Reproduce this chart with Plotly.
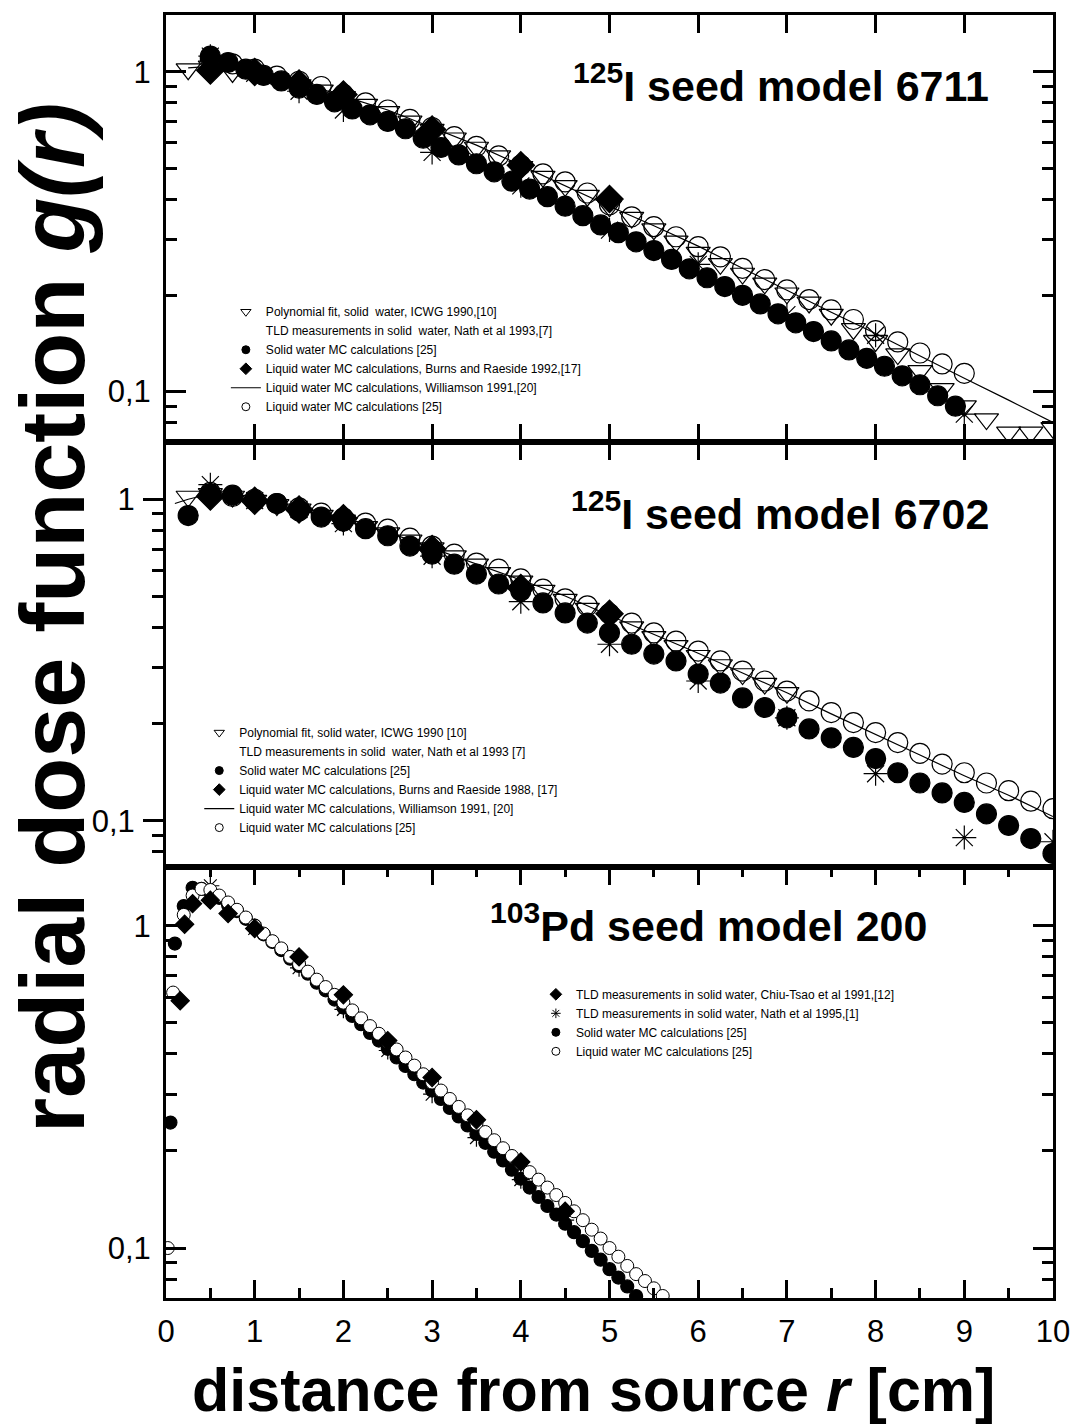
import plotly.graph_objects as go

# ---------------- Panel 1 : 125I seed model 6711 ----------------
p1_poly_x = [0.25, 0.5, 0.75, 1.0, 1.25, 1.5, 1.75, 2.0, 2.25, 2.5, 2.75, 3.0, 3.25, 3.5, 3.75, 4.0,
             4.25, 4.5, 4.75, 5.0, 5.25, 5.5, 5.75, 6.0, 6.25, 6.5, 6.75, 7.0, 7.25, 7.5, 7.75, 8.0,
             8.25, 8.5, 8.75, 9.0, 9.25, 9.5, 9.75, 10.0]
p1_poly_g = [1.02, 1.04, 1.00, 0.99, 0.95, 0.91, 0.875, 0.835, 0.79, 0.75, 0.70, 0.66, 0.62, 0.58,
             0.545, 0.505, 0.47, 0.44, 0.41, 0.38, 0.35, 0.322, 0.295, 0.272, 0.251, 0.234, 0.218,
             0.203, 0.19, 0.174, 0.157, 0.144, 0.131, 0.116, 0.102, 0.090, 0.082, 0.0745, 0.0745, 0.077]
p1_tld_x = [0.5, 1.0, 1.5, 2.0, 3.0, 4.0, 5.0, 6.0, 7.0, 8.0, 9.0]
p1_tld_g = [1.12, 0.99, 0.87, 0.76, 0.56, 0.44, 0.32, 0.25, 0.174, 0.15, 0.085]
p1_solid_x = [0.5, 0.7, 0.9, 1.1, 1.3, 1.5, 1.7, 1.9, 2.1, 2.3, 2.5, 2.7, 2.9, 3.1, 3.3, 3.5, 3.7,
              3.9, 4.1, 4.3, 4.5, 4.7, 4.9, 5.1, 5.3, 5.5, 5.7, 5.9, 6.1, 6.3, 6.5, 6.7, 6.9, 7.1,
              7.3, 7.5, 7.7, 7.9, 8.1, 8.3, 8.5, 8.7, 8.9]
p1_solid_g = [1.12, 1.07, 1.02, 0.975, 0.937, 0.89, 0.85, 0.806, 0.766, 0.734, 0.70, 0.664, 0.62,
              0.58, 0.55, 0.516, 0.487, 0.455, 0.43, 0.407, 0.38, 0.355, 0.332, 0.314, 0.294, 0.276,
              0.259, 0.242, 0.227, 0.213, 0.20, 0.188, 0.175, 0.164, 0.154, 0.144, 0.135, 0.127,
              0.12, 0.112, 0.105, 0.097, 0.090]
p1_burns_x = [0.5, 1.0, 1.5, 2.0, 3.0, 4.0, 5.0]
p1_burns_g = [1.01, 1.0, 0.92, 0.85, 0.66, 0.51, 0.40]
p1_will_x = [0.25, 0.5, 1.0, 1.5, 2.0, 2.5, 3.0, 3.5, 4.0, 4.5, 5.0, 5.5, 6.0, 6.5, 7.0, 7.5, 8.0,
             8.5, 9.0, 9.5, 10.0]
p1_will_g = [1.03, 1.04, 1.0, 0.93, 0.84, 0.76, 0.67, 0.59, 0.51, 0.44, 0.38, 0.33, 0.285, 0.243,
             0.207, 0.177, 0.152, 0.129, 0.11, 0.094, 0.08]
p1_liq_x = [0.5, 0.75, 1.0, 1.25, 1.5, 1.75, 2.0, 2.25, 2.5, 2.75, 3.0, 3.25, 3.5, 3.75, 4.0, 4.25,
            4.5, 4.75, 5.0, 5.25, 5.5, 5.75, 6.0, 6.25, 6.5, 6.75, 7.0, 7.25, 7.5, 7.75, 8.0, 8.25,
            8.5, 8.75, 9.0]
p1_liq_g = [1.10, 1.06, 1.02, 0.97, 0.935, 0.90, 0.85, 0.80, 0.76, 0.71, 0.67, 0.627, 0.585, 0.546,
            0.51, 0.48, 0.453, 0.418, 0.384, 0.352, 0.328, 0.305, 0.284, 0.264, 0.243, 0.224, 0.208,
            0.194, 0.18, 0.168, 0.155, 0.143, 0.132, 0.122, 0.114]

# ---------------- Panel 2 : 125I seed model 6702 ----------------
p2_poly_x = [0.25, 0.5, 0.75, 1.0, 1.25, 1.5, 1.75, 2.0, 2.25, 2.5, 2.75, 3.0, 3.25, 3.5, 3.75, 4.0,
             4.25, 4.5, 4.75, 5.0, 5.25, 5.5, 5.75, 6.0, 6.25, 6.5, 6.75, 7.0]
p2_poly_g = [1.02, 1.04, 1.02, 0.99, 0.96, 0.93, 0.89, 0.86, 0.82, 0.785, 0.745, 0.705, 0.665, 0.627,
             0.59, 0.555, 0.52, 0.487, 0.457, 0.428, 0.40, 0.373, 0.35, 0.326, 0.305, 0.286, 0.267, 0.25]
p2_tld_x = [0.5, 1.0, 1.5, 2.0, 3.0, 4.0, 5.0, 6.0, 7.0, 8.0, 9.0, 10.0]
p2_tld_g = [1.11, 0.99, 0.93, 0.84, 0.665, 0.48, 0.354, 0.272, 0.209, 0.14, 0.0886, 0.086]
p2_solid_x = [0.25, 0.5, 0.75, 1.0, 1.25, 1.5, 1.75, 2.0, 2.25, 2.5, 2.75, 3.0, 3.25, 3.5, 3.75, 4.0,
              4.25, 4.5, 4.75, 5.0, 5.25, 5.5, 5.75, 6.0, 6.25, 6.5, 6.75, 7.0, 7.25, 7.5, 7.75, 8.0,
              8.25, 8.5, 8.75, 9.0, 9.25, 9.5, 9.75, 10.0]
p2_solid_g = [0.89, 1.04, 1.03, 0.99, 0.97, 0.92, 0.88, 0.855, 0.81, 0.77, 0.715, 0.675, 0.628, 0.585,
              0.545, 0.518, 0.476, 0.443, 0.412, 0.384, 0.354, 0.33, 0.314, 0.286, 0.268, 0.241,
              0.225, 0.209, 0.193, 0.181, 0.169, 0.156, 0.141, 0.131, 0.122, 0.114, 0.105, 0.0966,
              0.088, 0.079]
p2_burns_x = [0.5, 1.0, 1.5, 2.0, 3.0, 4.0, 5.0]
p2_burns_g = [1.02, 0.99, 0.93, 0.873, 0.70, 0.53, 0.44]
p2_will_x = [0.1, 0.25, 0.5, 1.0, 1.5, 2.0, 2.5, 3.0, 3.5, 4.0, 4.5, 5.0, 5.5, 6.0, 6.5, 7.0, 7.5,
             8.0, 8.5, 9.0, 9.5, 10.0]
p2_will_g = [0.97, 1.0, 1.04, 0.99, 0.93, 0.86, 0.79, 0.705, 0.63, 0.56, 0.50, 0.435, 0.38, 0.332,
             0.288, 0.25, 0.215, 0.185, 0.16, 0.138, 0.12, 0.103]
p2_liq_x = [0.5, 0.75, 1.0, 1.25, 1.5, 1.75, 2.0, 2.25, 2.5, 2.75, 3.0, 3.25, 3.5, 3.75, 4.0, 4.25,
            4.5, 4.75, 5.0, 5.25, 5.5, 5.75, 6.0, 6.25, 6.5, 6.75, 7.0, 7.25, 7.5, 7.75, 8.0, 8.25,
            8.5, 8.75, 9.0, 9.25, 9.5, 9.75, 10.0]
p2_liq_g = [1.05, 1.02, 1.0, 0.97, 0.94, 0.905, 0.875, 0.843, 0.807, 0.757, 0.715, 0.675, 0.633,
            0.606, 0.565, 0.525, 0.49, 0.466, 0.44, 0.412, 0.384, 0.362, 0.337, 0.314, 0.292, 0.272,
            0.253, 0.236, 0.217, 0.202, 0.188, 0.175, 0.162, 0.15, 0.141, 0.131, 0.124, 0.115, 0.109]

# ---------------- Panel 3 : 103Pd seed model 200 ----------------
p3_chiu_x = [0.16, 0.21, 0.3, 0.5, 0.7, 1.0, 1.5, 2.0, 2.5, 3.0, 3.5, 4.0, 4.5]
p3_chiu_g = [0.585, 1.01, 1.17, 1.2, 1.09, 0.98, 0.80, 0.61, 0.44, 0.338, 0.25, 0.185, 0.13]
p3_nath_x = [0.5, 1.0, 1.5, 2.0, 2.5, 3.0, 3.5, 4.0, 4.5]
p3_nath_g = [1.33, 0.98, 0.74, 0.55, 0.41, 0.30, 0.22, 0.163, 0.122]
p3_solid_x = [0.05, 0.1, 0.2, 0.3, 0.4, 0.5, 0.6, 0.7, 0.8, 0.9, 1.0, 1.1, 1.2, 1.3, 1.4, 1.5, 1.6,
              1.7, 1.8, 1.9, 2.0, 2.1, 2.2, 2.3, 2.4, 2.5, 2.6, 2.7, 2.8, 2.9, 3.0, 3.1, 3.2, 3.3,
              3.4, 3.5, 3.6, 3.7, 3.8, 3.9, 4.0, 4.1, 4.2, 4.3, 4.4, 4.5, 4.6, 4.7, 4.8, 4.9, 5.0,
              5.1, 5.2, 5.3]
p3_solid_g = [0.245, 0.88, 1.15, 1.31, 1.30, 1.27, 1.22, 1.16, 1.11, 1.05, 1.00, 0.94, 0.89, 0.84,
              0.79, 0.75, 0.71, 0.665, 0.63, 0.59, 0.557, 0.525, 0.495, 0.465, 0.44, 0.415, 0.39,
              0.367, 0.346, 0.326, 0.308, 0.29, 0.272, 0.256, 0.24, 0.226, 0.212, 0.199, 0.187,
              0.175, 0.164, 0.154, 0.144, 0.135, 0.127, 0.119, 0.112, 0.105, 0.098, 0.092, 0.086,
              0.081, 0.076, 0.071]
p3_liq_x = [0.02, 0.08, 0.2, 0.3, 0.4, 0.5, 0.6, 0.7, 0.8, 0.9, 1.0, 1.1, 1.2, 1.3, 1.4, 1.5, 1.6,
            1.7, 1.8, 1.9, 2.0, 2.1, 2.2, 2.3, 2.4, 2.5, 2.6, 2.7, 2.8, 2.9, 3.0, 3.1, 3.2, 3.3,
            3.4, 3.5, 3.6, 3.7, 3.8, 3.9, 4.0, 4.1, 4.2, 4.3, 4.4, 4.5, 4.6, 4.7, 4.8, 4.9, 5.0,
            5.1, 5.2, 5.3, 5.4, 5.5, 5.6]
p3_liq_g = [0.1, 0.62, 1.08, 1.24, 1.30, 1.29, 1.24, 1.18, 1.12, 1.06, 1.00, 0.945, 0.895, 0.85,
            0.80, 0.76, 0.72, 0.68, 0.645, 0.61, 0.577, 0.546, 0.516, 0.488, 0.462, 0.437, 0.413,
            0.39, 0.368, 0.346, 0.326, 0.308, 0.29, 0.274, 0.258, 0.243, 0.229, 0.216, 0.204, 0.193,
            0.183, 0.172, 0.163, 0.154, 0.146, 0.138, 0.13, 0.122, 0.114, 0.107, 0.1, 0.094, 0.088,
            0.083, 0.079, 0.075, 0.071]

legend1_labels = ["Polynomial fit, solid  water, ICWG 1990,[10]",
                  "TLD measurements in solid  water, Nath et al 1993,[7]",
                  "Solid water MC calculations [25]",
                  "Liquid water MC calculations, Burns and Raeside 1992,[17]",
                  "Liquid water MC calculations, Williamson 1991,[20]",
                  "Liquid water MC calculations [25]"]
legend2_labels = ["Polynomial fit, solid water, ICWG 1990 [10]",
                  "TLD measurements in solid  water, Nath et al 1993 [7]",
                  "Solid water MC calculations [25]",
                  "Liquid water MC calculations, Burns and Raeside 1988, [17]",
                  "Liquid water MC calculations, Williamson 1991, [20]",
                  "Liquid water MC calculations [25]"]
legend3_labels = ["TLD measurements in solid water, Chiu-Tsao et al 1991,[12]",
                  "TLD measurements in solid water, Nath et al 1995,[1]",
                  "Solid water MC calculations [25]",
                  "Liquid water MC calculations [25]"]
panel_titles = ["<b><sup>125</sup>I seed model 6711</b>",
                "<b><sup>125</sup>I seed model 6702</b>",
                "<b><sup>103</sup>Pd seed model 200</b>"]

FONT = "Liberation Sans, Arial, sans-serif"
K = "black"

fig = go.Figure()


def pts(x, y, xa, ya, symbol, size, fill=K, lw=1.2):
    fig.add_trace(go.Scatter(x=x, y=y, xaxis=xa, yaxis=ya, mode="markers", showlegend=False,
                             hoverinfo="skip",
                             marker=dict(symbol=symbol, size=size, color=fill,
                                         line=dict(color=K, width=lw))))


def line(x, y, xa, ya):
    fig.add_trace(go.Scatter(x=x, y=y, xaxis=xa, yaxis=ya, mode="lines", showlegend=False,
                             hoverinfo="skip", line=dict(color=K, width=1.2)))


def leg(name, legend, kind, xa, ya, symbol=None, fill=K, size=8):
    if kind == "line":
        tr = go.Scatter(x=[None], y=[None], xaxis=xa, yaxis=ya, mode="lines", name=name,
                        legend=legend, line=dict(color=K, width=1.2))
    elif kind == "none":
        tr = go.Scatter(x=[None], y=[None], xaxis=xa, yaxis=ya, mode="markers", name=name,
                        legend=legend, marker=dict(size=1, color="rgba(0,0,0,0)",
                                                   line=dict(width=0)))
    else:
        tr = go.Scatter(x=[None], y=[None], xaxis=xa, yaxis=ya, mode="markers", name=name,
                        legend=legend, marker=dict(symbol=symbol, size=size, color=fill,
                                                   line=dict(color=K, width=1)))
    fig.add_trace(tr)


# panel 1
pts(p1_poly_x, p1_poly_g, "x", "y", "triangle-down-open", 21)
pts(p1_liq_x, p1_liq_g, "x", "y", "circle-open", 20)
pts(p1_solid_x, p1_solid_g, "x", "y", "circle", 20)
pts(p1_burns_x, p1_burns_g, "x", "y", "diamond", 21)
pts(p1_tld_x, p1_tld_g, "x", "y", "asterisk-open", 20)
line(p1_will_x, p1_will_g, "x", "y")

# panel 2
pts(p2_poly_x, p2_poly_g, "x2", "y2", "triangle-down-open", 21)
pts(p2_liq_x, p2_liq_g, "x2", "y2", "circle-open", 20)
pts(p2_solid_x, p2_solid_g, "x2", "y2", "circle", 20)
pts(p2_burns_x, p2_burns_g, "x2", "y2", "diamond", 21)
pts(p2_tld_x, p2_tld_g, "x2", "y2", "asterisk-open", 20)
line(p2_will_x, p2_will_g, "x2", "y2")

# panel 3
pts(p3_solid_x, p3_solid_g, "x3", "y3", "circle", 13)
pts(p3_nath_x, p3_nath_g, "x3", "y3", "asterisk-open", 15)
pts(p3_liq_x, p3_liq_g, "x3", "y3", "circle", 13, fill="white", lw=1)
pts(p3_chiu_x, p3_chiu_g, "x3", "y3", "diamond", 14)

# legends
leg(legend1_labels[0], "legend", "m", "x", "y", "triangle-down-open", size=9)
leg(legend1_labels[1], "legend", "none", "x", "y")
leg(legend1_labels[2], "legend", "m", "x", "y", "circle", size=8)
leg(legend1_labels[3], "legend", "m", "x", "y", "diamond", size=9)
leg(legend1_labels[4], "legend", "line", "x", "y")
leg(legend1_labels[5], "legend", "m", "x", "y", "circle-open", size=8)

leg(legend2_labels[0], "legend2", "m", "x2", "y2", "triangle-down-open", size=9)
leg(legend2_labels[1], "legend2", "none", "x2", "y2")
leg(legend2_labels[2], "legend2", "m", "x2", "y2", "circle", size=8)
leg(legend2_labels[3], "legend2", "m", "x2", "y2", "diamond", size=9)
leg(legend2_labels[4], "legend2", "line", "x2", "y2")
leg(legend2_labels[5], "legend2", "m", "x2", "y2", "circle-open", size=8)

leg(legend3_labels[0], "legend3", "m", "x3", "y3", "diamond", size=9)
leg(legend3_labels[1], "legend3", "m", "x3", "y3", "asterisk-open", size=8)
leg(legend3_labels[2], "legend3", "m", "x3", "y3", "circle", size=8)
leg(legend3_labels[3], "legend3", "m", "x3", "y3", "circle-open", size=8)

minor_log = [0.07, 0.08, 0.09, 0.2, 0.3, 0.4, 0.5, 0.6, 0.7, 0.8, 0.9]


def yax(domain, rng, ticks="inside", mirror="ticks", labels=True, side="left", **kw):
    d = dict(type="log", domain=domain, range=rng, tickvals=[0.1, 1], ticktext=["0,1", "1"],
             ticks=ticks, ticklen=20, tickwidth=3, tickcolor=K,
             showline=True, linewidth=3, linecolor=K, mirror=mirror,
             showgrid=False, zeroline=False, showticklabels=labels, side=side,
             ticklabelstandoff=6 if ticks == "inside" else 2,
             tickfont=dict(family=FONT, size=31, color=K),
             minor=dict(tickvals=minor_log, ticks=ticks, ticklen=11, tickwidth=2.5, tickcolor=K,
                        showgrid=False))
    d.update(kw)
    return d


def xax(anchor, labels=False, minor=False, side="bottom", mirror="ticks"):
    d = dict(range=[0, 10], anchor=anchor, tickvals=list(range(0, 11)), ticks="inside",
             ticklen=18, tickwidth=3, tickcolor=K, showline=True, linewidth=3, linecolor=K,
             mirror=mirror, showgrid=False, zeroline=False, showticklabels=labels, side=side,
             ticklabelstandoff=4,
             tickfont=dict(family=FONT, size=31, color=K))
    if minor:
        d["minor"] = dict(dtick=0.5, tick0=0, ticks="inside", ticklen=10, tickwidth=2.5,
                          tickcolor=K, showgrid=False)
    return d


legfont = dict(family=FONT, size=12, color=K)

fig.update_layout(
    width=1082, height=1425,
    margin=dict(l=166, r=22, t=13, b=127),
    paper_bgcolor="white", plot_bgcolor="white",
    xaxis=xax("y"),
    yaxis=yax([0.6669, 1.0], [-1.159, 0.178]),
    xaxis2=xax("y2", side="top", mirror=True),
    yaxis2=yax([0.3362, 0.6669], [-1.143, 0.177], ticks="outside", mirror=True),
    yaxis4=yax([0.3362, 0.6669], [-1.143, 0.177], labels=False, side="right",
               overlaying="y2", anchor="x2", showline=False),
    xaxis3=xax("y3", labels=True, minor=True),
    yaxis3=yax([0.0, 0.3362], [-1.155, 0.183]),
    legend=dict(x=0.0675, y=0.780, xanchor="left", yanchor="top", bgcolor="rgba(0,0,0,0)",
                font=legfont, itemsizing="trace", tracegroupgap=0),
    legend2=dict(x=0.0375, y=0.452, xanchor="left", yanchor="top", bgcolor="rgba(0,0,0,0)",
                 font=legfont, itemsizing="trace"),
    legend3=dict(x=0.417, y=0.248, xanchor="left", yanchor="top", bgcolor="rgba(0,0,0,0)",
                 font=legfont, itemsizing="trace"),
    showlegend=True,
)

# panel titles
for i, (xr, yr, xpos, ypos) in enumerate([("x domain", "y domain", 0.93, 0.84),
                                           ("x2 domain", "y2 domain", 0.93, 0.838),
                                           ("x3 domain", "y3 domain", 0.86, 0.87)]):
    fig.add_annotation(text=panel_titles[i], xref=xr, yref=yr, x=xpos, y=ypos,
                       xanchor="right", yanchor="middle", showarrow=False,
                       font=dict(family=FONT, size=43, color=K))

# axis titles
fig.add_annotation(text="<b>radial dose function <i>g(r)</i></b>", xref="paper", yref="paper",
                   x=-0.1275, y=0.53, xanchor="center", yanchor="middle", textangle=-90,
                   showarrow=False, font=dict(family=FONT, size=90, color=K))
fig.add_annotation(text="<b>distance from source <i>r</i> [cm]</b>", xref="paper", yref="paper",
                   x=0.482, y=-0.0715, xanchor="center", yanchor="middle", showarrow=False,
                   font=dict(family=FONT, size=61, color=K))

fig.write_html("out.html")
